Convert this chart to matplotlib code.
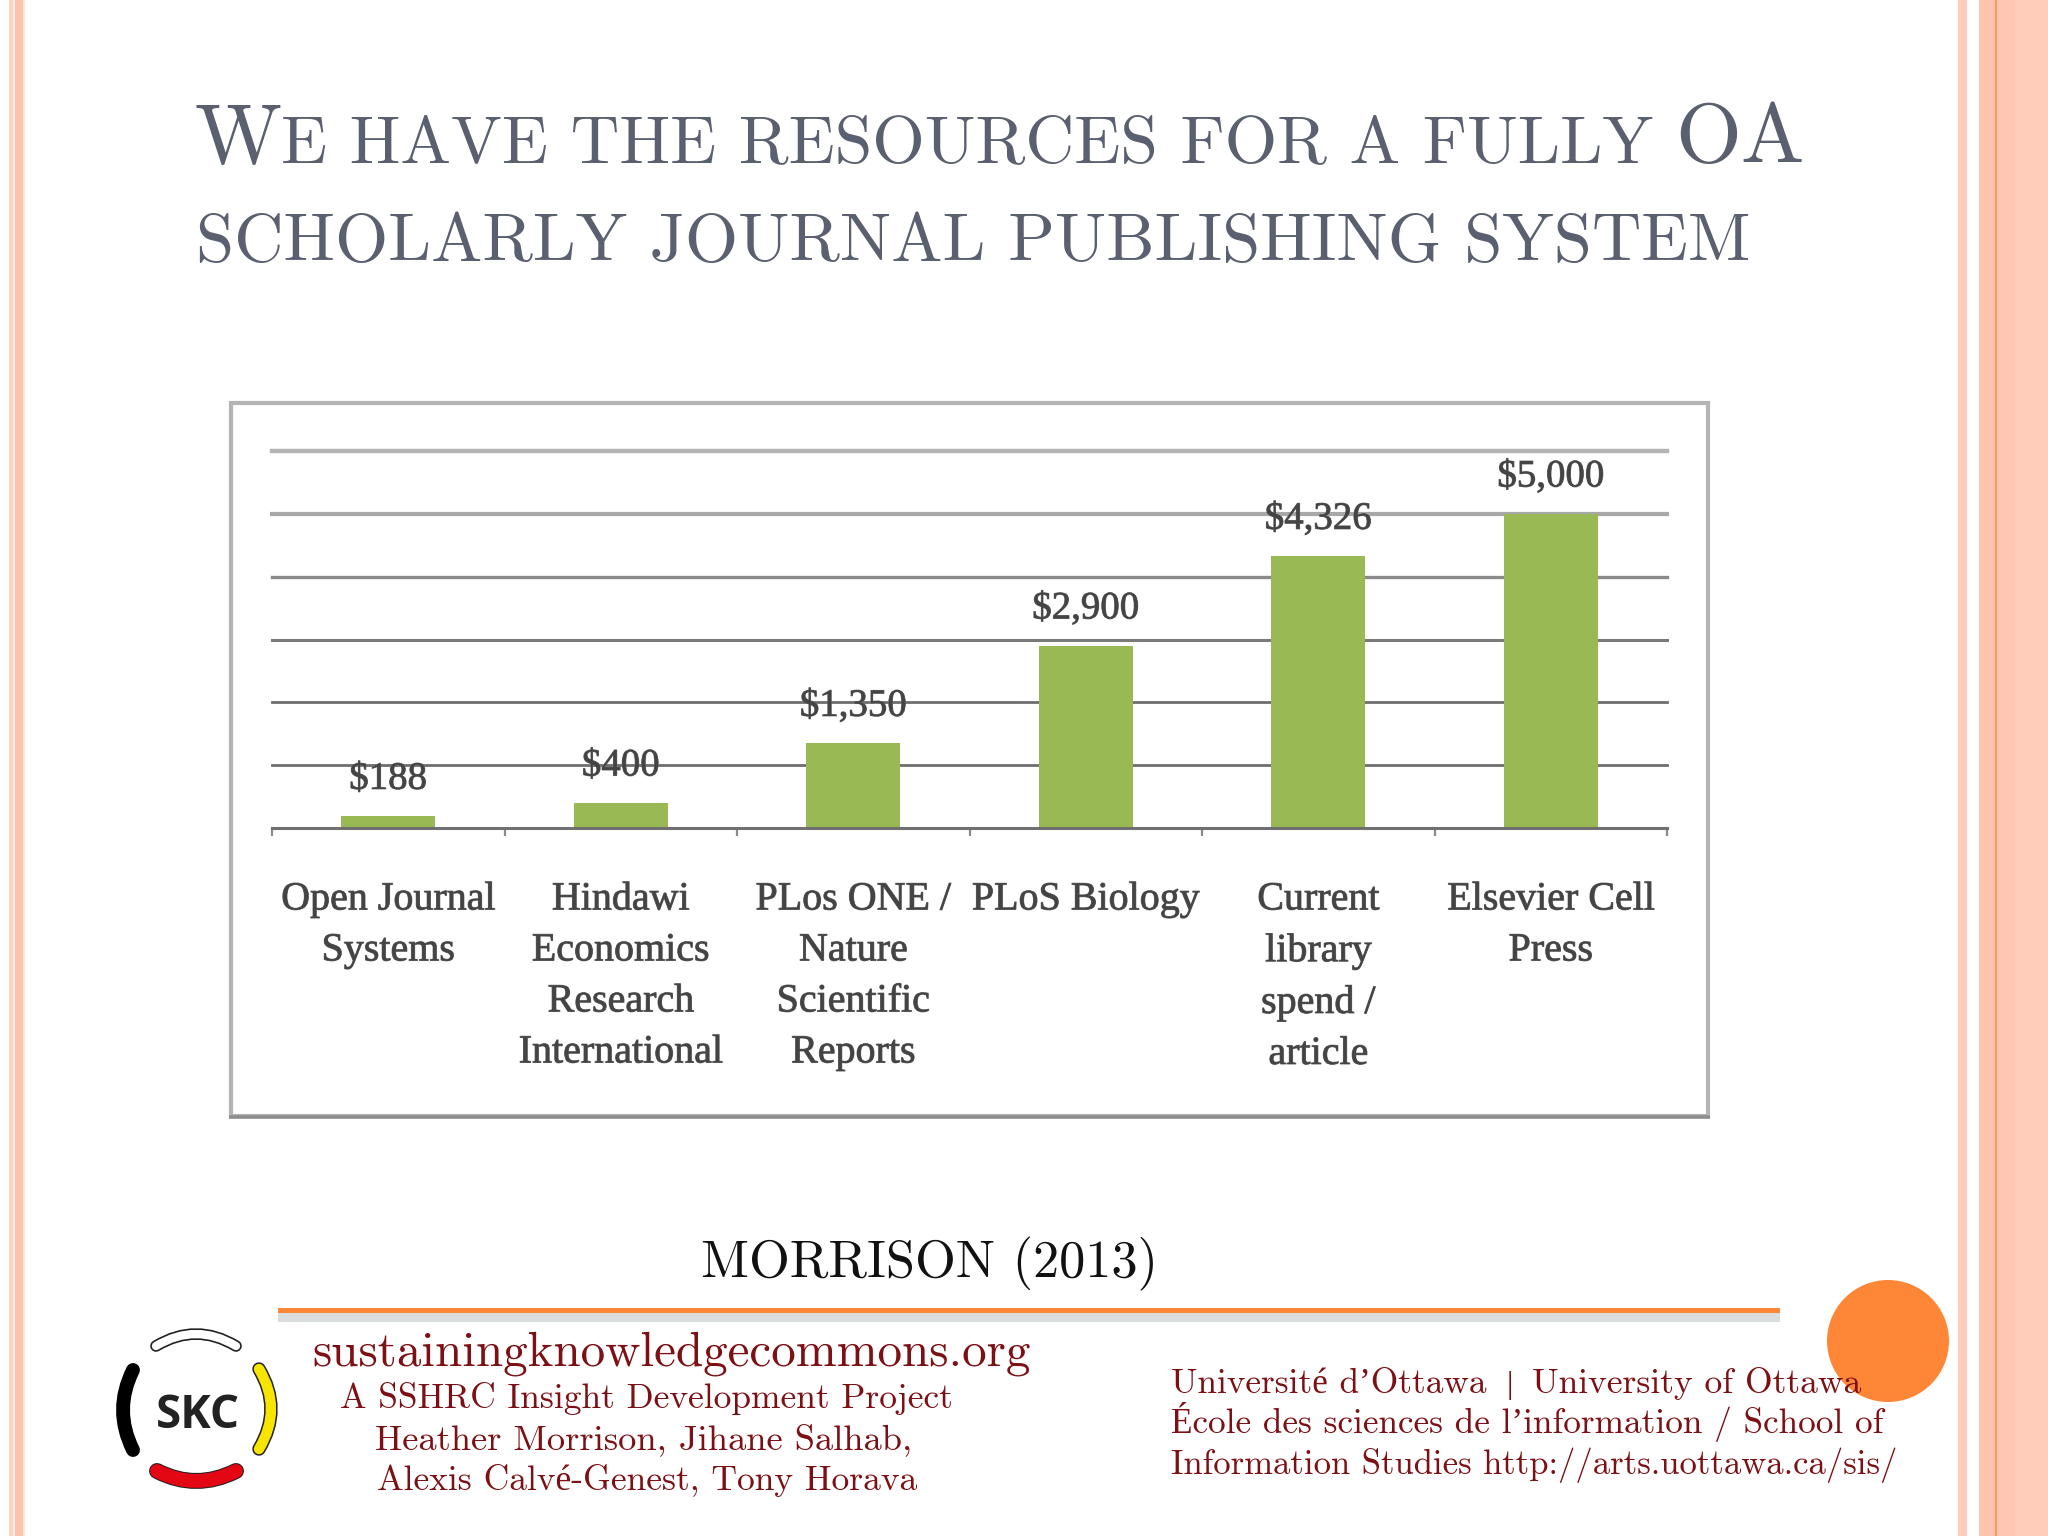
import matplotlib
matplotlib.use("Agg")
import matplotlib.pyplot as plt
import matplotlib.patheffects as pe
from matplotlib.patches import Rectangle, Circle, PathPatch
from matplotlib.path import Path

W, H = 2048, 1536
categories = ["Open Journal\nSystems", "Hindawi\nEconomics\nResearch\nInternational",
              "PLos ONE /\nNature\nScientific\nReports", "PLoS Biology",
              "Current\nlibrary\nspend /\narticle", "Elsevier Cell\nPress"]
costs = [188, 400, 1350, 2900, 4326, 5000]
cost_labels = ["$188", "$400", "$1,350", "$2,900", "$4,326", "$5,000"]
gridlines = [1000, 2000, 3000, 4000, 5000, 6000]
grid_colors = ["#6E6E6E", "#6E6E6E", "#7A7A7A", "#8A8A8A", "#A8A8A8", "#B4B4B4"]
grid_widths = [2.0, 2.0, 2.2, 2.4, 3.0, 3.2]
title_runs_1 = [("W", True), ("E HAVE THE RESOURCES FOR A FULLY ", False), ("OA", True)]
title_line_2 = "SCHOLARLY JOURNAL PUBLISHING SYSTEM"
source_text = "MORRISON (2013)"
footer_left = ["sustainingknowledgecommons.org", "A SSHRC Insight Development Project",
               "Heather Morrison, Jihane Salhab,", "Alexis Calvé-Genest, Tony Horava"]
footer_right = ["École des sciences de l’information / School of",
                "Information Studies http://arts.uottawa.ca/sis/"]
footer_top = ["Université d’Ottawa", "University of Ottawa"]

SERIF = ["cmr10", "Liberation Serif", "DejaVu Serif"]
TITLE = "#5A6070"
RED = "#7D1014"
SALMON = "#FFC4AE"
ORANGE = "#FE8637"

fig = plt.figure(figsize=(W / 100, H / 100), dpi=100, facecolor="white")

bg = fig.add_axes([0, 0, 1, 1], zorder=0)
bg.set_xlim(0, W)
bg.set_ylim(H, 0)
bg.axis("off")
fg = fig.add_axes([0, 0, 1, 1], zorder=5)
fg.set_xlim(0, W)
fg.set_ylim(H, 0)
fg.axis("off")
fg.patch.set_alpha(0)


def band(x0, x1, color):
    bg.add_patch(Rectangle((x0, 0), x1 - x0, H, fc=color, ec="none"))


band(9, 13, "#FFD2C2")
band(13, 15, "#FFEDE6")
band(15, 23, SALMON)
band(23, 25, "#FFE6DC")
band(1958, 1967, "#FFCDBB")
band(1979, 1995, SALMON)
band(1995, 1997, "#FB9A5E")
band(1997, 2015, "#FFC6B1")
band(2015, W, "#FFCDBA")

# chart frame
bg.add_patch(Rectangle((231, 403), 1477, 713, fc="#FFFFFF", ec="#B4B4B4", lw=3.0))
bg.plot([229, 1710], [1117, 1117], color="#8E8E8E", lw=2.6, solid_capstyle="butt")

renderer = fig.canvas.get_renderer()


def fit(s, x0, x1, base, color, family=SERIF):
    t = fg.text(x0, base, s, family=family, color=color, fontsize=30, ha="left", va="baseline", zorder=8)
    w = t.get_window_extent(renderer).width
    t.set_fontsize(30 * (x1 - x0) / w)
    return t


# title with small capitals
def runs(items, x, base, big, small, color):
    for s, is_big in items:
        fs = big if is_big else small
        fg.text(x, base, s, family=SERIF, color=color, fontsize=fs, ha="left", va="baseline")
        p = fg.text(0, 0, s.replace(" ", "\u00a0") + "|", family=SERIF, fontsize=fs)
        q = fg.text(0, 0, "|", family=SERIF, fontsize=fs)
        x += p.get_window_extent(renderer).width - q.get_window_extent(renderer).width
        p.remove()
        q.remove()


runs(title_runs_1, 194, 162, 61, 48.75, TITLE)
fit(title_line_2, 196, 1752, 261, TITLE)

# chart
ax = fig.add_axes([272 / W, 1 - 828 / H, (1667 - 272) / W, (828 - 451) / H], zorder=2)
ax.patch.set_alpha(0)
ax.set_xlim(-0.5, 5.5)
ax.set_ylim(0, 6000)
for s in ["top", "left", "right"]:
    ax.spines[s].set_visible(False)
ax.spines["bottom"].set_color("#707070")
ax.spines["bottom"].set_linewidth(2.2)
ax.set_yticks([])
for g, c, lw in zip(gridlines, grid_colors, grid_widths):
    ax.axhline(g, color=c, lw=lw, zorder=1, clip_on=False)
xs = list(range(len(categories)))
ax.bar(xs, costs, width=0.405, color="#98B954", zorder=2)
ax.set_xticks([x - 0.5 for x in xs] + [5.5])
ax.set_xticklabels([])
ax.tick_params(axis="x", length=6, width=1.6, color="#8A8A8A")
soft = [pe.withStroke(linewidth=0.7, foreground="#666666")]
for x, v, lab in zip(xs, costs, cost_labels):
    ax.annotate(lab, (x, v), xytext=(0, 26.5), textcoords="offset points", ha="center", va="center",
                family="Liberation Serif", fontsize=28, color="#444444", zorder=4, path_effects=soft)
for x, c in zip(xs, categories):
    ax.annotate(c, (x, 0), xytext=(0, -38.5), textcoords="offset points", ha="center", va="top",
                family="Liberation Serif", fontsize=28.8, color="#444444", linespacing=1.5,
                path_effects=soft)

# source
fit(source_text, 701, 1158, 1277, "#111111")

# rule
fg.add_patch(Rectangle((278, 1313), 1502, 9, fc="#DADDDD", ec="none", zorder=1))
fg.add_patch(Rectangle((278, 1308), 1502, 5, fc=ORANGE, ec="none", zorder=2))
fg.add_patch(Circle((1888, 1341), 61, fc=ORANGE, ec="none", zorder=2))


# logo
def arc(p0, ctrl, p1, color, width, edge=None, edge_width=0):
    path = Path([p0, ctrl, p1], [Path.MOVETO, Path.CURVE3, Path.CURVE3])
    if edge:
        fg.add_patch(PathPatch(path, fc="none", ec=edge, lw=width + edge_width, capstyle="round", zorder=3))
    fg.add_patch(PathPatch(path, fc="none", ec=color, lw=width, capstyle="round", zorder=3))


arc((133, 1370), (113, 1410), (133, 1450), "#000000", 10)
arc((259, 1369), (283, 1409), (259, 1449), "#F7E400", 7.5, "#222222", 2.2)
arc((156, 1346), (196, 1322), (236, 1346), "#FFFFFF", 6, "#222222", 2.4)
arc((157, 1471), (196, 1491), (236, 1471), "#E30613", 10, "#222222", 1.5)
fg.text(198, 1416, "SKC", family="Open Sans", fontweight="bold", fontsize=33, color="#222222",
        ha="center", va="center", zorder=4)

# footer
left_pos = [(312, 1031, 1365), (340, 954, 1408), (375, 912, 1449), (377, 918, 1490)]
for s, (a, b, y) in zip(footer_left, left_pos):
    fit(s, a, b, y, RED)
fit(footer_top[0], 1171, 1487, 1393, RED)
fg.text(1510, 1393, "|", family="Liberation Serif", fontsize=23, color=RED, ha="center", va="baseline", zorder=8)
fit(footer_top[1], 1532, 1862, 1393, RED)
right_pos = [(1171, 1884, 1433), (1171, 1898, 1474)]
for s, (a, b, y) in zip(footer_right, right_pos):
    fit(s, a, b, y, RED)

fig.savefig("out.png", dpi=100)
